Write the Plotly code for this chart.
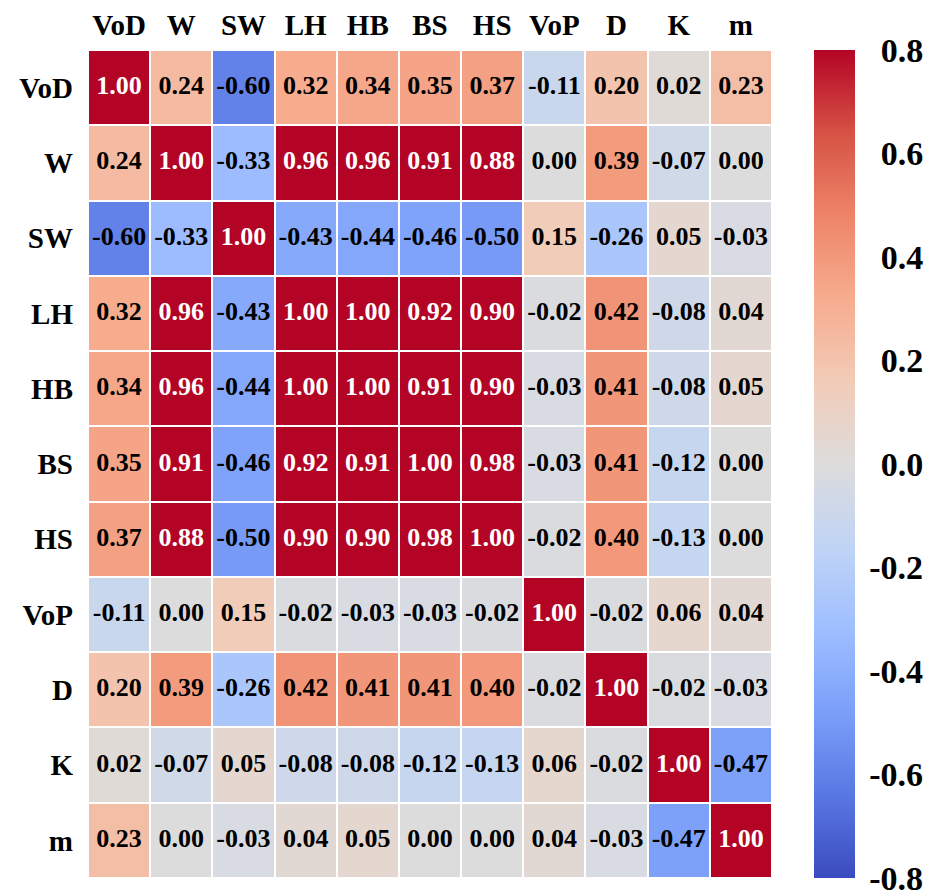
import plotly.graph_objects as go

labels = ["VoD", "W", "SW", "LH", "HB", "BS", "HS", "VoP", "D", "K", "m"]

row_VoD = [1.00, 0.24, -0.60, 0.32, 0.34, 0.35, 0.37, -0.11, 0.20, 0.02, 0.23]
row_W = [0.24, 1.00, -0.33, 0.96, 0.96, 0.91, 0.88, 0.00, 0.39, -0.07, 0.00]
row_SW = [-0.60, -0.33, 1.00, -0.43, -0.44, -0.46, -0.50, 0.15, -0.26, 0.05, -0.03]
row_LH = [0.32, 0.96, -0.43, 1.00, 1.00, 0.92, 0.90, -0.02, 0.42, -0.08, 0.04]
row_HB = [0.34, 0.96, -0.44, 1.00, 1.00, 0.91, 0.90, -0.03, 0.41, -0.08, 0.05]
row_BS = [0.35, 0.91, -0.46, 0.92, 0.91, 1.00, 0.98, -0.03, 0.41, -0.12, 0.00]
row_HS = [0.37, 0.88, -0.50, 0.90, 0.90, 0.98, 1.00, -0.02, 0.40, -0.13, 0.00]
row_VoP = [-0.11, 0.00, 0.15, -0.02, -0.03, -0.03, -0.02, 1.00, -0.02, 0.06, 0.04]
row_D = [0.20, 0.39, -0.26, 0.42, 0.41, 0.41, 0.40, -0.02, 1.00, -0.02, -0.03]
row_K = [0.02, -0.07, 0.05, -0.08, -0.08, -0.12, -0.13, 0.06, -0.02, 1.00, -0.47]
row_m = [0.23, 0.00, -0.03, 0.04, 0.05, 0.00, 0.00, 0.04, -0.03, -0.47, 1.00]

matrix = [row_VoD, row_W, row_SW, row_LH, row_HB, row_BS, row_HS, row_VoP, row_D, row_K, row_m]

cbar_vals = [-0.8, -0.6, -0.4, -0.2, 0.0, 0.2, 0.4, 0.6, 0.8]
cbar_text = ["-0.8", "-0.6", "-0.4", "-0.2", "0.0", "0.2", "0.4", "0.6", "0.8"]

coolwarm = ["#3b4cc0", "#5977e3", "#7b9ff9", "#9ebeff", "#c0d4f5", "#dddcdc",
            "#f2cbb7", "#f7ac8e", "#ee8468", "#d65244", "#b40426"]
colorscale = [[i / 10, c] for i, c in enumerate(coolwarm)]

FONT = "Liberation Serif, Times New Roman, serif"

# pad non-negative labels so the column reads right-aligned like the reference
cbar_disp = [t if t.startswith("-") else "\u00a0\u200a" + t for t in cbar_text]

fig = go.Figure()
fig.add_trace(go.Heatmap(
    z=matrix, x=labels, y=labels,
    zmin=-0.8, zmax=0.8, colorscale=colorscale,
    xgap=2, ygap=2, hoverinfo="skip",
    colorbar=dict(
        x=1.061, xanchor="left", y=0.5, yanchor="middle", xpad=0, ypad=0,
        len=1, lenmode="fraction", thickness=41, outlinewidth=0,
        tickmode="array", tickvals=cbar_vals, ticktext=cbar_disp,
        ticks="outside", ticklen=8, tickcolor="rgba(0,0,0,0)",
        ticklabeloverflow="allow",
        tickfont=dict(family=FONT, size=34, color="black", weight="bold"),
    ),
))

xs, ys, txt, cols = [], [], [], []
for r, rl in enumerate(labels):
    for c, cl in enumerate(labels):
        v = matrix[r][c]
        xs.append(cl)
        ys.append(rl)
        txt.append(f"{v:.2f}".replace("-0.00", "0.00"))
        cols.append("white" if abs(v) > 0.8 else "black")

fig.add_trace(go.Scatter(
    x=xs, y=ys, mode="text", text=txt,
    textfont=dict(family=FONT, size=26, color=cols, weight="bold"),
    hoverinfo="skip", showlegend=False,
))

fig.update_layout(
    width=924, height=885,
    margin=dict(l=80, r=160, t=42, b=15, autoexpand=False),
    paper_bgcolor="white", plot_bgcolor="white",
    showlegend=False,
)
fig.update_xaxes(side="top", showgrid=False, zeroline=False, ticks="", automargin=False,
                 range=[-0.5, 10.5],
                 tickfont=dict(family=FONT, size=29, color="black", weight="bold"),
                 ticklabelstandoff=8)
fig.update_yaxes(range=[10.5, -0.5], showgrid=False, zeroline=False, ticks="", automargin=False,
                 tickfont=dict(family=FONT, size=29, color="black", weight="bold"),
                 ticklabelstandoff=14)

fig.write_html("out.html")
